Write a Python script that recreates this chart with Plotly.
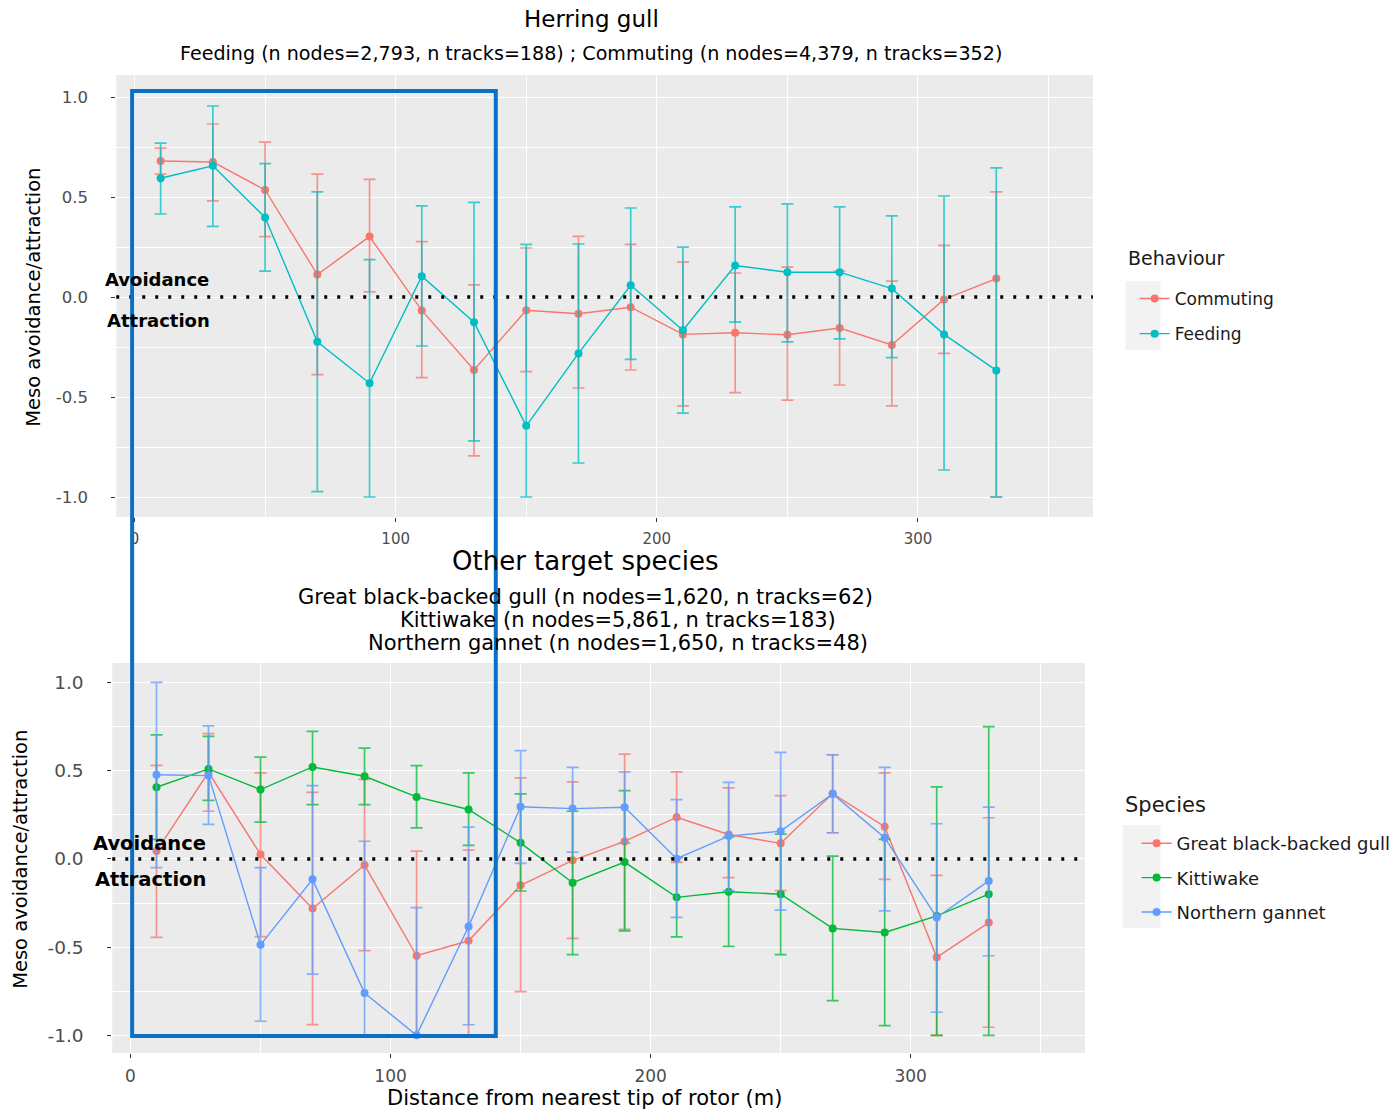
import plotly.graph_objects as go

# ---------------- data ----------------
distance = [10, 30, 50, 70, 90, 110, 130, 150, 170, 190, 210, 230, 250, 270, 290, 310, 330]

# Herring gull
commuting_mean = [0.68, 0.675, 0.535, 0.112, 0.302, -0.067, -0.365, -0.066, -0.084, -0.051, -0.187, -0.179, -0.189, -0.155, -0.24, -0.012, 0.092]
commuting_lo = [0.614, 0.481, 0.302, -0.388, 0.026, -0.403, -0.794, -0.373, -0.455, -0.365, -0.544, -0.478, -0.516, -0.44, -0.544, -0.282, -1.0]
commuting_hi = [0.744, 0.865, 0.774, 0.614, 0.588, 0.277, 0.061, 0.245, 0.303, 0.263, 0.174, 0.12, 0.149, 0.13, 0.079, 0.258, 0.526]

feeding_mean = [0.594, 0.656, 0.398, -0.224, -0.431, 0.104, -0.126, -0.644, -0.282, 0.059, -0.166, 0.157, 0.124, 0.124, 0.042, -0.187, -0.367]
feeding_lo = [0.415, 0.353, 0.129, -0.973, -1.0, -0.245, -0.719, -1.0, -0.83, -0.312, -0.581, -0.126, -0.224, -0.209, -0.303, -0.865, -1.0]
feeding_hi = [0.769, 0.955, 0.667, 0.526, 0.187, 0.456, 0.473, 0.263, 0.265, 0.445, 0.249, 0.451, 0.466, 0.451, 0.406, 0.505, 0.646]

# Other target species
gbbg_mean = [0.044, 0.49, 0.025, -0.281, -0.035, -0.549, -0.464, -0.15, -0.008, 0.099, 0.236, 0.138, 0.088, 0.37, 0.182, -0.558, -0.361]
gbbg_lo = [-0.445, 0.27, -0.44, -0.939, -0.52, -1.0, -1.0, -0.752, -0.451, -0.40, -0.02, -0.106, -0.18, 0.148, -0.116, -1.0, -0.954]
gbbg_hi = [0.53, 0.71, 0.487, 0.377, 0.45, 0.044, 0.05, 0.459, 0.436, 0.594, 0.493, 0.402, 0.359, 0.59, 0.487, -0.093, 0.233]

kitt_mean = [0.406, 0.51, 0.393, 0.521, 0.468, 0.351, 0.28, 0.091, -0.135, -0.018, -0.218, -0.186, -0.2, -0.394, -0.417, -0.323, -0.2]
kitt_lo = [0.11, 0.332, 0.208, 0.308, 0.308, 0.176, 0.076, -0.182, -0.543, -0.408, -0.442, -0.496, -0.543, -0.803, -0.945, -1.0, -1.0]
kitt_hi = [0.703, 0.694, 0.577, 0.722, 0.628, 0.528, 0.487, 0.368, 0.27, 0.387, 0.006, 0.124, 0.14, 0.016, 0.11, 0.408, 0.75]

gannet_mean = [0.477, 0.472, -0.487, -0.116, -0.76, -1.0, -0.383, 0.295, 0.285, 0.293, 0.001, 0.129, 0.157, 0.368, 0.12, -0.332, -0.125]
gannet_lo = [-0.05, 0.195, -0.92, -0.653, -1.0, -1.0, -0.94, -0.025, 0.038, 0.09, -0.332, -0.18, -0.29, 0.148, -0.295, -0.869, -0.549]
gannet_hi = [1.0, 0.754, -0.05, 0.415, 0.1, -0.276, 0.18, 0.613, 0.519, 0.493, 0.336, 0.434, 0.604, 0.59, 0.519, 0.199, 0.293]

x_ticks = [0, 100, 200, 300]
x_minor = [50, 150, 250, 350]
y_ticks = [-1.0, -0.5, 0.0, 0.5, 1.0]
y_ticktext = ["-1.0", "-0.5", "0.0", "0.5", "1.0"]
y_minor = [-0.75, -0.25, 0.25, 0.75]

# ---------------- layout helpers ----------------
W, H = 1396, 1113
FONT = "DejaVu Sans"


def px(x):
    return x / W


def py(y):
    return 1 - y / H


def rgba(hexcol, a):
    h = hexcol.lstrip("#")
    r, g, b = int(h[0:2], 16), int(h[2:4], 16), int(h[4:6], 16)
    return f"rgba({r},{g},{b},{a})"


fig = go.Figure()

# grey legend key backgrounds (ggplot style)
fig.add_shape(type="rect", xref="paper", yref="paper", x0=px(1133), x1=px(1168), y0=py(350), y1=py(281),
              fillcolor="#F2F2F2", line=dict(width=0), layer="below")
fig.add_shape(type="rect", xref="paper", yref="paper", x0=px(1130), x1=px(1168), y0=py(928), y1=py(825),
              fillcolor="#F2F2F2", line=dict(width=0), layer="below")


def add_series(name, mean, lo, hi, color, xa, ya, legend):
    fig.add_trace(go.Scatter(
        x=distance, y=mean, mode="lines+markers", name=name, legendgroup=name,
        line=dict(color=color, width=1.4),
        marker=dict(color=color, size=8),
        error_y=dict(type="data", symmetric=False,
                     array=[h - m for h, m in zip(hi, mean)],
                     arrayminus=[m - l for m, l in zip(mean, lo)],
                     color=rgba(color, 0.75), thickness=1.7, width=6),
        xaxis=xa, yaxis=ya, legend=legend,
    ))


add_series("Commuting", commuting_mean, commuting_lo, commuting_hi, "#F8766D", "x", "y", "legend")
add_series("Feeding", feeding_mean, feeding_lo, feeding_hi, "#00BFC4", "x", "y", "legend")
add_series("Great black-backed gull", gbbg_mean, gbbg_lo, gbbg_hi, "#F8766D", "x2", "y2", "legend2")
add_series("Kittiwake", kitt_mean, kitt_lo, kitt_hi, "#00BA38", "x2", "y2", "legend2")
add_series("Northern gannet", gannet_mean, gannet_lo, gannet_hi, "#619CFF", "x2", "y2", "legend2")


def xaxis_cfg(left, right, anchor, fsize):
    return dict(domain=[px(left), px(right)], range=[-7, 367], anchor=anchor,
                tickvals=x_ticks, showgrid=True, gridcolor="white", gridwidth=1.3,
                minor=dict(tickvals=x_minor, showgrid=True, gridcolor="white", gridwidth=0.6),
                zeroline=False, showline=False, ticks="outside", ticklen=4,
                tickcolor="#333333", tickwidth=1, ticklabelstandoff=4,
                tickfont=dict(family=FONT, size=fsize, color="#4D4D4D"),
                automargin=False)


def yaxis_cfg(top, bottom, anchor, fsize):
    return dict(domain=[py(bottom), py(top)], range=[-1.1, 1.11], anchor=anchor,
                tickvals=y_ticks, ticktext=y_ticktext, showgrid=True, gridcolor="white", gridwidth=1.3,
                minor=dict(tickvals=y_minor, showgrid=True, gridcolor="white", gridwidth=0.6),
                zeroline=False, showline=False, ticks="outside", ticklen=4,
                tickcolor="#333333", tickwidth=1, ticklabelstandoff=20,
                tickfont=dict(family=FONT, size=fsize, color="#4D4D4D"),
                automargin=False)


fig.update_layout(
    width=W, height=H, autosize=False,
    margin=dict(l=0, r=0, t=0, b=0),
    paper_bgcolor="white", plot_bgcolor="#EBEBEB",
    font=dict(family=FONT, color="#1A1A1A"),
    xaxis=xaxis_cfg(117, 1100, "y", 15),
    yaxis=yaxis_cfg(75, 517, "x", 16.5),
    xaxis2=xaxis_cfg(113, 1092, "y2", 17),
    yaxis2=yaxis_cfg(663, 1053, "x2", 18.5),
    legend=dict(x=px(1142), y=py(281), xanchor="left", yanchor="top", tracegroupgap=10,
                font=dict(family=FONT, size=17, color="#1A1A1A"), bgcolor="rgba(0,0,0,0)"),
    legend2=dict(x=px(1144), y=py(825), xanchor="left", yanchor="top", tracegroupgap=8,
                 font=dict(family=FONT, size=18, color="#1A1A1A"), bgcolor="rgba(0,0,0,0)"),
    showlegend=True,
)

# dotted zero lines
for xr, yr in [("x domain", "y"), ("x2 domain", "y2")]:
    fig.add_shape(type="line", xref=xr, yref=yr, x0=0, x1=1, y0=0, y1=0,
                  line=dict(color="black", width=3.5, dash="3px,10px"), layer="above")


# text annotations
def ann(text, x, y, size, bold=False, angle=0, xanchor="center", color="black"):
    fig.add_annotation(text=f"<b>{text}</b>" if bold else text, xref="paper", yref="paper",
                       x=px(x), y=py(y), xanchor=xanchor, yanchor="middle",
                       showarrow=False, textangle=angle,
                       font=dict(family=FONT, size=size, color=color))


ann("Herring gull", 595, 19, 23)
ann("Feeding (n nodes=2,793, n tracks=188) ; Commuting (n nodes=4,379, n tracks=352)", 595, 54, 19.1)
ann("Other target species", 589, 561, 26)
ann("Great black-backed gull (n nodes=1,620, n tracks=62)", 589, 597, 21)
ann("Kittiwake (n nodes=5,861, n tracks=183)", 622, 620, 21)
ann("Northern gannet (n nodes=1,650, n tracks=48)", 622, 643, 21)

ann("Meso avoidance/attraction", 33, 297, 19.5, angle=-90)
ann("Meso avoidance/attraction", 20, 859, 19.5, angle=-90)
ann("Distance from nearest tip of rotor (m)", 588, 1098, 21)

ann("Behaviour", 1133, 258, 19, xanchor="left", color="#1A1A1A")
ann("Species", 1130, 805, 21, xanchor="left", color="#1A1A1A")

ann("Avoidance", 104, 279, 18, bold=True, xanchor="left")
ann("Attraction", 106, 320, 18, bold=True, xanchor="left")
ann("Avoidance", 92, 843, 19.5, bold=True, xanchor="left")
ann("Attraction", 94, 879, 19.5, bold=True, xanchor="left")

# blue highlight rectangle
fig.add_shape(type="rect", xref="paper", yref="paper",
              x0=px(133), x1=px(499), y0=py(1036), y1=py(91),
              line=dict(color="#0B6FC4", width=4), fillcolor="rgba(0,0,0,0)", layer="above")

fig.write_html(
    "out.html", config={"displayModeBar": False, "responsive": False},
    post_script=("document.body.style.margin='0';"
                 "document.body.style.overflow='hidden';"
                 "document.documentElement.style.overflow='hidden';"),
)
